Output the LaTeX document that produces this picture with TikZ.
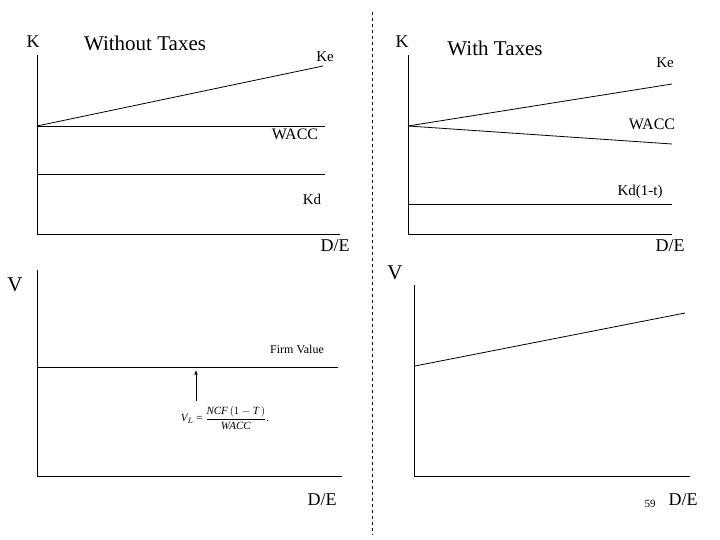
\documentclass[tikz,border=0pt]{standalone}
\usepackage{fontspec}
\setmainfont{Liberation Serif}
\begin{document}
\begin{tikzpicture}[x=1pt,y=-1pt,ln/.style={line width=0.8pt},lbl/.style={inner sep=0pt},fs/.style={font=\fontsize{#1}{#1}\selectfont}]
\useasboundingbox (0,0) rectangle (720,540);
% divider
\draw[dashed] (372,12) coordinate (d1) -- (372,535) coordinate (d2);
% top-left
\coordinate (o1) at (37,234); \coordinate (t1) at (37,55); \coordinate (e1) at (340,234);
\draw[ln] (t1) -- (o1) -- (e1);
\coordinate (a1) at (37,126);
\draw[ln] (a1) -- (323,66) coordinate (ke1);
\draw[ln] (a1) -- (325,126) coordinate (w1);
\draw[ln] (37,174) coordinate (k1) -- (325,174) coordinate (k1e);
\node[lbl,fs=18] (K1) at (33,42) {K};
\node[lbl,fs=21] (WT) at (145,43) {Without Taxes};
\node[lbl,fs=15] (Ke1) at (325,57) {Ke};
\node[lbl,fs=16] (W1) at (295,134) {WACC};
\node[lbl,fs=15] (Kd1) at (312,199) {Kd};
\node[lbl,fs=18] (DE1) at (335,246) {D/E};
% top-right
\coordinate (o2) at (408,234); \coordinate (t2) at (408,55); \coordinate (e2) at (672,234);
\draw[ln] (t2) -- (o2) -- (e2);
\coordinate (a2) at (408,126);
\draw[ln] (a2) -- (672,84) coordinate (ke2);
\draw[ln] (a2) -- (672,144) coordinate (w2);
\draw[ln] (408,204) coordinate (k2) -- (672,204) coordinate (k2e);
\node[lbl,fs=18] (K2) at (402,42) {K};
\node[lbl,fs=21] (WT2) at (495,48) {With Taxes};
\node[lbl,fs=15] (Ke2) at (665,63) {Ke};
\node[lbl,fs=16] (W2) at (652,124) {WACC};
\node[lbl,fs=15] (Kd2) at (640,192) {Kd(1-t)};
\node[lbl,fs=18] (DE2) at (670,246) {D/E};
% bottom-left
\coordinate (o3) at (37,476); \coordinate (t3) at (37,270); \coordinate (e3) at (342,476);
\draw[ln] (t3) -- (o3) -- (e3);
\draw[ln] (37,367) coordinate (f1) -- (338,367) coordinate (f2);
\node[lbl,fs=21] (V1) at (15,285) {V};
\node[lbl,fs=12] (FV) at (297,349) {Firm Value};
\node[lbl,fs=11] (F) at (225,418) {\textit{V}$_{\!L}$ = $\displaystyle\frac{\textit{NCF}\,(1-\textit{T}\,)}{\textit{WACC}}$.};
\draw[-latex,line width=0.6pt] (196,401) coordinate (ar1) -- (196,370) coordinate (ar2);
\node[lbl,fs=18] (DE3) at (322,500) {D/E};
% bottom-right
\coordinate (o4) at (414,476); \coordinate (t4) at (414,285); \coordinate (e4) at (690,476);
\draw[ln] (t4) -- (o4) -- (e4);
\draw[ln] (415,366) coordinate (v1) -- (685,313) coordinate (v2);
\node[lbl,fs=21] (V2) at (395,273) {V};
\node[lbl,fs=11] (P) at (650,504) {59};
\node[lbl,fs=18] (DE4) at (683,500) {D/E};
\end{tikzpicture}
\end{document}
